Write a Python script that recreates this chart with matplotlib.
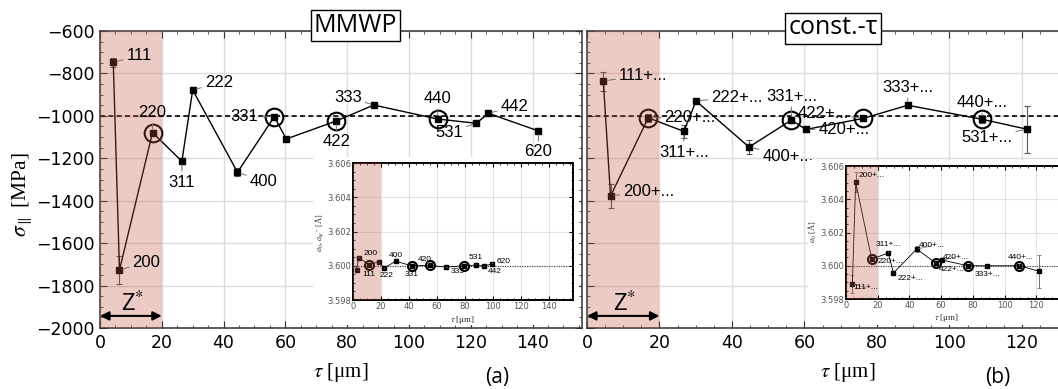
import matplotlib.pyplot as plt
from matplotlib.patches import Rectangle
from matplotlib.ticker import MultipleLocator, FormatStrFormatter

plt.rcParams['mathtext.fontset'] = 'stix'
plt.rcParams['font.family'] = ['DejaVu Sans']

# ---- (a) MMWP, main panel ----
tau_a = [4.3, 6.3, 17.0, 26.5, 30.0, 44.5, 56.4, 60.3, 76.5, 88.6, 109.3, 121.8, 125.7, 141.9]
sig_a = [-748, -1727, -1079, -1214, -878, -1266, -1004, -1109, -1024, -949, -1015, -1035, -988, -1071]
err_a = [20, 65, 10, 15, 6, 18, 8, 6, 10, 6, 8, 6, 6, 6]
hkl_a = ['111', '200', '220', '311', '222', '400', '331', '', '422', '333', '440', '531', '442', '620']
ring_a = [False, False, True, False, False, False, True, False, True, False, True, False, False, False]

# ---- (a) inset: lattice parameter ----
tau_a0a = [2.6, 4.0, 11.7, 18.6, 22.1, 30.5, 41.9, 55.2, 66.4, 79.5, 87.9, 93.3, 99.0]
a0_a = [3.59975, 3.60047, 3.60006, 3.60024, 3.59987, 3.60026, 3.60000, 3.60002, 3.59992,
        3.60000, 3.60004, 3.59998, 3.60010]
hkl_a0a = ['111', '200', '', '', '222', '400', '331', '420', '333', '', '531', '442', '620']
ring_a0a = [False, False, True, False, False, False, True, True, False, True, False, False, False]

# ---- (b) const.-tau, main panel ----
tau_b = [4.5, 6.5, 16.9, 26.7, 30.1, 44.7, 56.4, 60.4, 76.2, 88.5, 109.0, 121.4]
sig_b = [-836, -1378, -1009, -1073, -930, -1147, -1020, -1064, -1012, -950, -1016, -1063]
err_b = [45, 55, 20, 30, 10, 35, 15, 12, 10, 15, 20, 110]
hkl_b = ['111+...', '200+...', '220+...', '311+...', '222+...', '400+...', '331+...',
         '420+...', '422+...', '333+...', '440+...', '531+...']
ring_b = [False, False, True, False, False, False, True, False, True, False, True, False]

# ---- (b) inset ----
tau_a0b = [4.0, 6.1, 16.2, 26.7, 29.9, 44.6, 56.6, 60.8, 76.8, 89.2, 109.4, 122.0]
a0_b = [3.59891, 3.60504, 3.60040, 3.60077, 3.59956, 3.60101, 3.60016, 3.60034, 3.60000,
        3.60000, 3.60000, 3.59966]
err_a0b = [0.00055, 0.0006, 0.00005, 0.0001, 0.00005, 0.0002, 0.00005, 0.00005, 0.00005,
           0.00005, 0.00005, 0.001]
hkl_a0b = ['111+...', '200+...', '220+...', '311+...', '222+...', '400+...', '422+...',
           '420+...', '', '333+...', '440+...', '']
ring_a0b = [False, False, True, False, False, False, True, False, True, False, True, False]

# label offsets in pixels (dx, dy)
off_a = [(26, 7), (27, 8), (0, 20), (0, -21), (26, 7), (26, -9), (-30, 0), (0, 0), (0, -21),
         (-26, 8), (0, 21), (-27, -9), (26, 7), (0, -21)]
off_b = [(40, 6), (38, 5), (42, 0), (0, -21), (41, 4), (39, -9), (0, 24), (38, 0), (-40, 5),
         (0, 18), (0, 17), (-40, -8)]
off_a0a = [(12, -4), (12, 4), (0, 0), (0, 0), (3, -8), (0, 6), (0, -9), (-6, 6), (12, -4),
           (0, 0), (0, 8), (11, -5), (12, 3)]
off_a0b = [(14, -4), (16, 6), (19, -2), (0, 8), (17, -5), (15, 3), (16, -6), (13, 3), (0, 0),
           (0, -9), (1, 8), (0, 0)]

SHADE = '#c0553a'
W, H = 1058, 389
fig = plt.figure(figsize=(W / 100, H / 100), dpi=100)


def px_axes(x0, y0, x1, y1, **kw):
    return fig.add_axes([x0 / W, 1 - y1 / H, (x1 - x0) / W, (y1 - y0) / H], **kw)


def label_points(ax, xs, ys, labels, offs, size, lw):
    for x, y, t, (dx, dy) in zip(xs, ys, labels, offs):
        if not t:
            continue
        ax.annotate(t, xy=(x, y), xytext=(dx, dy), textcoords='offset pixels',
                    ha='center', va='center', fontsize=size, family='Liberation Sans',
                    zorder=6,
                    arrowprops=dict(arrowstyle='-', color='0.45', lw=lw,
                                    shrinkA=0.5, shrinkB=size * 0.22))


def main_panel(ax, tau, sig, err, hkl, ring, offs, xmax, xticks, show_y):
    ax.set_xlim(0, xmax)
    ax.set_ylim(-2000, -600)
    ax.set_xticks(xticks)
    ax.set_yticks(range(-2000, -599, 200))
    ax.xaxis.set_minor_locator(MultipleLocator(5))
    ax.yaxis.set_minor_locator(MultipleLocator(50))
    ax.tick_params(which='both', direction='in', top=True, right=True, labelsize=12.5,
                   pad=4, color='#333333')
    ax.tick_params(which='major', length=5)
    ax.tick_params(which='minor', length=2.5)
    if not show_y:
        ax.tick_params(labelleft=False)
    ax.grid(True, which='major', color='#dcdcdc', lw=1)
    ax.set_axisbelow(True)
    for s in ax.spines.values():
        s.set_color('#333333')
        s.set_linewidth(1.1)
    ax.axhline(-1000, color='black', ls=(0, (3, 2)), lw=1.2, zorder=1.5)
    ax.errorbar(tau, sig, yerr=err, fmt='none', ecolor='0.35', elinewidth=0.8,
                capsize=2.5, capthick=0.8, zorder=2)
    ax.plot(tau, sig, '-', color='black', lw=1, marker='s', ms=4.2, zorder=2.5)
    ax.plot([t for t, r in zip(tau, ring) if r], [s for s, r in zip(sig, ring) if r],
            'o', ms=12.7, mfc='none', mec='black', mew=1.5, zorder=2.6)
    ax.axvspan(0, 20, color=SHADE, alpha=0.3, lw=0, zorder=3)
    label_points(ax, tau, sig, hkl, offs, 12, 0.7)
    ax.annotate('', xy=(0, -1943), xytext=(20, -1943),
                arrowprops=dict(arrowstyle='<|-|>', color='black', lw=1.5,
                                mutation_scale=13, shrinkA=0, shrinkB=0), zorder=5)
    ax.text(10.5, -1888, 'Z$^{*}$', ha='center', va='center', fontsize=17,
            family='Open Sans', zorder=5)


def inset_panel(ax, tau, a0, err, hkl, ring, offs, xmax, xticks):
    ax.set_xlim(0, xmax)
    ax.set_ylim(3.598, 3.606)
    ax.set_xticks(xticks)
    ax.set_yticks([3.598, 3.600, 3.602, 3.604, 3.606])
    ax.yaxis.set_major_formatter(FormatStrFormatter('%.3f'))
    ax.xaxis.set_minor_locator(MultipleLocator(5))
    ax.yaxis.set_minor_locator(MultipleLocator(0.0005))
    ax.tick_params(which='both', direction='in', top=True, right=True, labelsize=6,
                   labelcolor='#555555', pad=1.5)
    ax.tick_params(which='major', length=3)
    ax.tick_params(which='minor', length=1.5)
    ax.grid(True, which='major', color='#e2e2e2', lw=0.8)
    ax.set_axisbelow(True)
    for s in ax.spines.values():
        s.set_color('black')
        s.set_linewidth(1.4)
    ax.axhline(3.600, color='0.25', ls=(0, (1, 1.2)), lw=0.8, zorder=1.5)
    if err is not None:
        ax.errorbar(tau, a0, yerr=err, fmt='none', ecolor='0.45', elinewidth=0.7,
                    capsize=1.5, capthick=0.6, zorder=2)
    ax.plot(tau, a0, '-', color='black', lw=0.6, marker='s', ms=2.2, zorder=2.5)
    ax.plot([t for t, r in zip(tau, ring) if r], [v for v, r in zip(a0, ring) if r],
            'o', ms=6.5, mfc='none', mec='black', mew=1.5, zorder=2.6)
    ax.axvspan(0, 20, color=SHADE, alpha=0.3, lw=0, zorder=3)
    label_points(ax, tau, a0, hkl, offs, 6, 0.5)


ax1 = px_axes(100, 31, 582, 328)
ax2 = px_axes(587, 31, 1069, 328)
main_panel(ax1, tau_a, sig_a, err_a, hkl_a, ring_a, off_a, 156, range(0, 141, 20), True)
main_panel(ax2, tau_b, sig_b, err_b, hkl_b, ring_b, off_b, 133, range(0, 121, 20), False)

# white background behind the insets (hides main grid)
fig.add_artist(Rectangle((313 / W, 1 - 325 / H), (579 - 313) / W, (325 - 157) / H,
                         transform=fig.transFigure, fc='white', ec='none', zorder=1))
fig.add_artist(Rectangle((808 / W, 1 - 325 / H), (1058 - 808) / W, (325 - 160) / H,
                         transform=fig.transFigure, fc='white', ec='none', zorder=1))

ins1 = px_axes(353, 163, 573, 300)
ins2 = px_axes(846, 166, 1068, 299)
ins1.set_zorder(2)
ins2.set_zorder(2)
inset_panel(ins1, tau_a0a, a0_a, None, hkl_a0a, ring_a0a, off_a0a, 157, range(0, 141, 20))
inset_panel(ins2, tau_a0b, a0_b, err_a0b, hkl_a0b, ring_a0b, off_a0b, 140, range(0, 121, 20))

# axis labels
fig.text(22 / W, 1 - 195 / H, r'$\sigma_{\parallel}$ [MPa]', rotation=90, ha='center',
         va='center', fontsize=15.5, family='Liberation Serif')
fig.text(341 / W, 1 - 373 / H, r'$\tau$ [μm]', ha='center', va='center', fontsize=15,
         family='Liberation Serif')
fig.text(848 / W, 1 - 373 / H, r'$\tau$ [μm]', ha='center', va='center', fontsize=15,
         family='Liberation Serif')
fig.text(463 / W, 1 - 320 / H, r'$\tau$ [μm]', ha='center', va='center', fontsize=6.5,
         family='Liberation Serif', color='#333333', zorder=3)
fig.text(947 / W, 1 - 318 / H, r'$\tau$ [μm]', ha='center', va='center', fontsize=6.5,
         family='Liberation Serif', color='#333333', zorder=3)
fig.text(320 / W, 1 - 233 / H, r'$a_0$, $a_{\psi^*}$ [Å]', rotation=90, ha='center',
         va='center', fontsize=6, family='Liberation Serif', color='#333333', zorder=3)
fig.text(813 / W, 1 - 232 / H, r'$a_0$ [Å]', rotation=90, ha='center', va='center',
         fontsize=6, family='Liberation Serif', color='#333333', zorder=3)

# panel titles and tags
box = dict(boxstyle='square,pad=0.12', fc='white', ec='black', lw=1)
fig.text(355.5 / W, 1 - 25.5 / H, 'MMWP', ha='center', va='center', fontsize=18,
         family='Open Sans', bbox=box, zorder=5)
fig.text(833 / W, 1 - 28 / H, 'const.-τ', ha='center', va='center', fontsize=18,
         family='Open Sans', bbox=box, zorder=5)
fig.text(497 / W, 1 - 377 / H, '(a)', ha='center', va='center', fontsize=15,
         family='Open Sans')
fig.text(998 / W, 1 - 377 / H, '(b)', ha='center', va='center', fontsize=15,
         family='Open Sans')

fig.savefig('out.png', dpi=100)
